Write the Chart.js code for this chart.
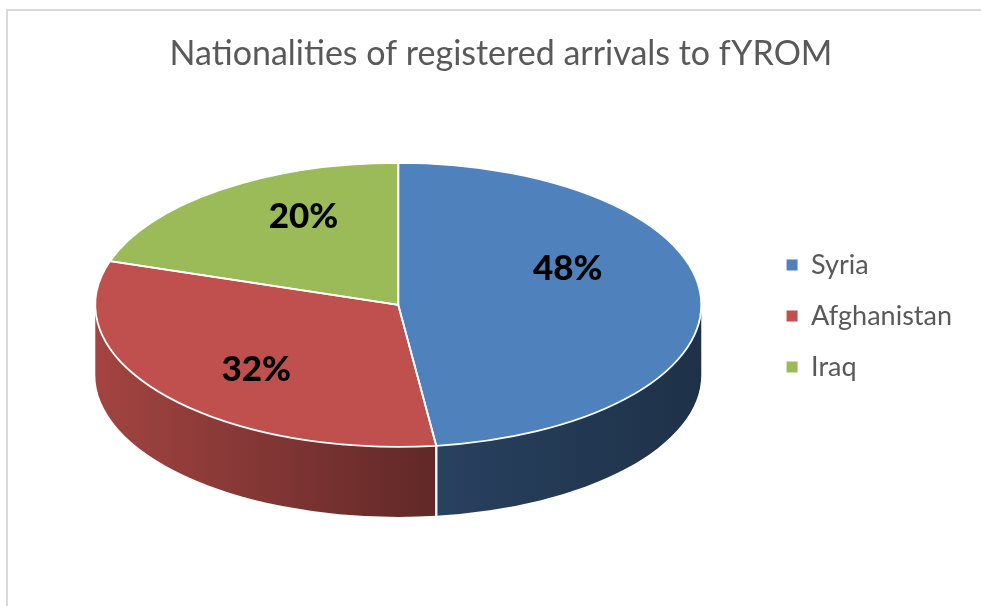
<!DOCTYPE html>
<html><head><meta charset="utf-8">
<script src="https://cdn.jsdelivr.net/npm/chart.js@4.4.1/dist/chart.umd.min.js"></script>
<style>html,body{margin:0;padding:0;background:#fff;} canvas{display:block;}</style>
</head><body>
<canvas id="c" width="981" height="606"></canvas>
<script>
const categories = ['Syria', 'Afghanistan', 'Iraq'];
const shares = [48, 32, 20];
const sliceColors = ['#4F81BD', '#C0504D', '#9BBB59'];
const chartTitle = 'Nationalities of registered arrivals to fYROM';

function rgbOf(hex){ const n = parseInt(hex.slice(1), 16); return [(n >> 16) & 255, (n >> 8) & 255, n & 255]; }
function shade(hex, f){ const c = rgbOf(hex); return 'rgb(' + c.map(v => Math.round(v * f)).join(',') + ')'; }

const framePlugin = {
  id: 'frame',
  beforeDraw(chart) {
    const ctx = chart.ctx;
    ctx.save();
    ctx.fillStyle = '#D9D9D9';
    ctx.fillRect(6, 9, chart.width - 6, 2);
    ctx.fillRect(6, 9, 2, chart.height - 9);
    ctx.restore();
  }
};

const pie3dPlugin = {
  id: 'pie3d',
  geom(chart, o) {
    const arcs = chart.getDatasetMeta(0).data;
    const a = arcs[0];
    const R = a.outerRadius;
    return { arcs, R, cx: a.x, cy: a.y, ex: a.x + o.shiftX, ey: a.y + o.shiftY, rx: o.rx, ry: o.ry, sx: o.rx / R, sy: o.ry / R };
  },
  beforeDatasetsDraw(chart, args, o) {
    const ctx = chart.ctx;
    const g = this.geom(chart, o);
    const d = o.depth;
    const ds = chart.data.datasets[0];
    // side walls (front half only)
    g.arcs.forEach((arc, i) => {
      const s = arc.startAngle, e = arc.endAngle;
      [[0, Math.PI], [2 * Math.PI, 3 * Math.PI]].forEach(([lo, hi]) => {
        const a = Math.max(s, lo), b = Math.min(e, hi);
        if (b <= a) return;
        const grad = ctx.createLinearGradient(g.ex - g.rx, 0, g.ex + g.rx, 0);
        o.sideShade.forEach(([p, f]) => grad.addColorStop(p, shade(ds.backgroundColor[i], f)));
        ctx.beginPath();
        ctx.ellipse(g.ex, g.ey, g.rx, g.ry, 0, a, b, false);
        ctx.ellipse(g.ex, g.ey + d, g.rx, g.ry, 0, b, a, true);
        ctx.closePath();
        ctx.fillStyle = grad;
        ctx.fill();
      });
    });
    // seams between side walls
    ctx.save();
    ctx.strokeStyle = '#FFFFFF';
    ctx.lineWidth = 2;
    g.arcs.forEach(arc => {
      [arc.startAngle, arc.endAngle].forEach(t => {
        const tt = ((t % (2 * Math.PI)) + 2 * Math.PI) % (2 * Math.PI);
        if (tt > 0.02 && tt < Math.PI - 0.02) {
          const x = g.ex + g.rx * Math.cos(tt);
          const y = g.ey + g.ry * Math.sin(tt);
          ctx.beginPath();
          ctx.moveTo(x, y);
          ctx.lineTo(x, y + d);
          ctx.stroke();
        }
      });
    });
    ctx.restore();
    // tilt the library's own slices into the top face
    ctx.save();
    ctx.translate(g.ex, g.ey);
    ctx.scale(g.sx, g.sy);
    ctx.translate(-g.cx, -g.cy);
  },
  afterDatasetsDraw(chart, args, o) {
    const ctx = chart.ctx;
    ctx.restore();
    const g = this.geom(chart, o);
    // white edges of the top face
    ctx.save();
    ctx.strokeStyle = '#FFFFFF';
    ctx.lineWidth = 1.8;
    ctx.lineJoin = 'round';
    g.arcs.forEach(arc => {
      ctx.save();
      ctx.translate(g.ex, g.ey);
      ctx.scale(g.sx, g.sy);
      ctx.beginPath();
      ctx.moveTo(0, 0);
      ctx.arc(0, 0, g.R, arc.startAngle, arc.endAngle);
      ctx.closePath();
      ctx.restore();
      ctx.stroke();
    });
    ctx.restore();
    // percentage labels
    const ds = chart.data.datasets[0];
    ctx.save();
    ctx.fillStyle = '#000000';
    ctx.font = '900 ' + o.labelSize + 'px Lato';
    ctx.textAlign = 'center';
    ctx.textBaseline = 'alphabetic';
    g.arcs.forEach((arc, i) => {
      const m = (arc.startAngle + arc.endAngle) / 2;
      const nud = o.labelNudge[i] || [0, 0];
      const x = g.ex + g.rx * o.labelRadius * Math.cos(m) + nud[0];
      const y = g.ey + g.ry * o.labelRadius * Math.sin(m) + nud[1];
      ctx.fillText(ds.data[i] + '%', x, y + o.labelSize * 0.36);
    });
    ctx.restore();
  }
};

Chart.defaults.font.family = 'Lato';

new Chart(document.getElementById('c'), {
  type: 'pie',
  data: {
    labels: categories,
    datasets: [{
      data: shares,
      backgroundColor: sliceColors,
      borderWidth: 0
    }]
  },
  options: {
    responsive: false,
    animation: false,
    events: [],
    layout: { padding: { left: 40, right: 19, top: 0, bottom: 64 } },
    plugins: {
      title: {
        display: true,
        text: chartTitle,
        color: '#595959',
        font: { size: 34, weight: 'normal' },
        padding: { top: 34, bottom: 15 }
      },
      legend: {
        position: 'right',
        fullSize: false,
        labels: {
          boxWidth: 11,
          boxHeight: 11,
          padding: 24,
          color: '#595959',
          font: { size: 27 }
        }
      },
      tooltip: { enabled: false },
      pie3d: {
        rx: 303, ry: 142, depth: 70, shiftX: -3, shiftY: -11,
        sideShade: [[0, 0.85], [0.567, 0.5], [1, 0.38]],
        labelSize: 35, labelRadius: 0.6,
        labelNudge: [[-12, -32], [-2, 9], [12, -21]]
      }
    }
  },
  plugins: [framePlugin, pie3dPlugin]
});
</script>
</body></html>
